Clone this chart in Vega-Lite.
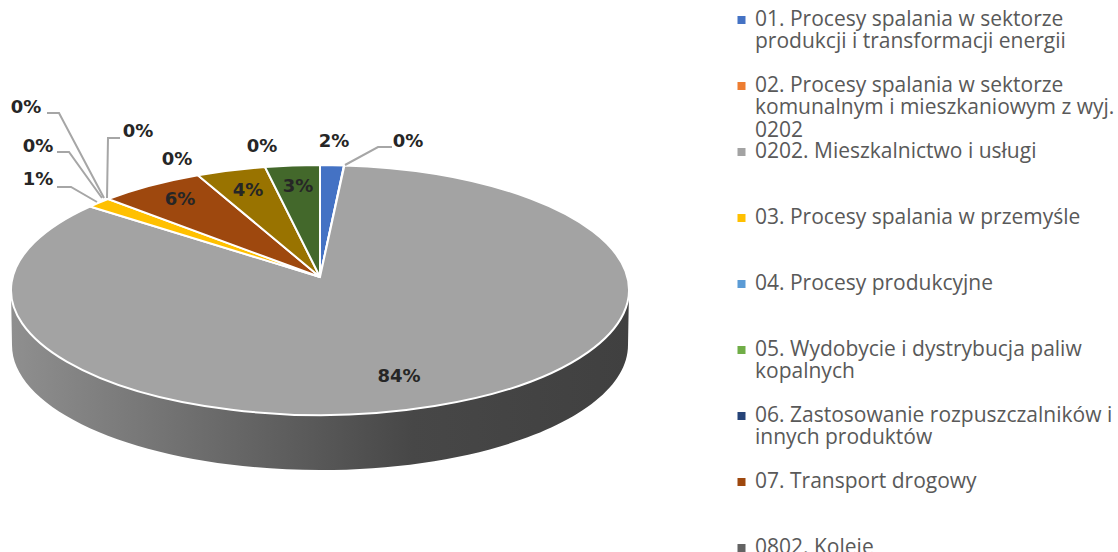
{
"$schema":"https://vega.github.io/schema/vega-lite/v6.json",
"width":1118,"height":552,"padding":0,"autosize":{"type":"none"},
"background":"white",
"config":{"view":{"stroke":null}},
"data":{"values":[
{"kategoria":"01. Procesy spalania w sektorze produkcji i transformacji energii","kod":"01","udzial":1.24,"etykieta":"2%"},
{"kategoria":"02. Procesy spalania w sektorze komunalnym i mieszkaniowym z wyj. 0202","kod":"02","udzial":0.02,"etykieta":"0%"},
{"kategoria":"0202. Mieszkalnictwo i usługi","kod":"0202","udzial":85.38,"etykieta":"84%"},
{"kategoria":"03. Procesy spalania w przemyśle","kod":"03","udzial":1.33,"etykieta":"1%"},
{"kategoria":"04. Procesy produkcyjne","kod":"04","udzial":0,"etykieta":"0%"},
{"kategoria":"05. Wydobycie i dystrybucja paliw kopalnych","kod":"05","udzial":0,"etykieta":"0%"},
{"kategoria":"06. Zastosowanie rozpuszczalników i innych produktów","kod":"06","udzial":0,"etykieta":"0%"},
{"kategoria":"07. Transport drogowy","kod":"07","udzial":5.56,"etykieta":"6%"},
{"kategoria":"0802. Koleje","kod":"0802","udzial":0,"etykieta":"0%"},
{"kategoria":"09. Zagospodarowanie odpadów","kod":"09","udzial":3.62,"etykieta":"4%"},
{"kategoria":"10. Rolnictwo","kod":"10","udzial":0,"etykieta":"0%"},
{"kategoria":"11. Inne","kod":"11","udzial":2.85,"etykieta":"3%"}
]},
"layer":[
{"data":{"values":[{"czesc":"bok"}]},
 "mark":{"type":"point","filled":true,"opacity":1,"strokeWidth":0,"fill":{"gradient":"linear","x1":0,"x2":1,"y1":0,"y2":0,"stops":[{"offset":0,"color":"#8f8f8f"},{"offset":0.65,"color":"#474747"},{"offset":1,"color":"#404040"}]}},
 "encoding":{"x":{"value":320},"y":{"value":290},"size":{"value":4},
  "shape":{"value":"M-309,0 L-308,55 A308,125 0 0 0 308,55 L309,0 A309,125 0 0 1 -309,0 Z"}}},
{"transform":[
  {"window":[{"op":"sum","field":"udzial","as":"koniec"}],"sort":[{"field":"kod","order":"ascending"}]},
  {"calculate":"datum.koniec-datum.udzial","as":"poczatek"},
  {"filter":"datum.udzial>0"},
  {"calculate":"'M0,-13 L'+(309*sin(datum.poczatek*PI/50))+','+(-125*cos(datum.poczatek*PI/50))+' A309,125 0 '+(datum.udzial>50?1:0)+' 1 '+(309*sin(datum.koniec*PI/50))+','+(-125*cos(datum.koniec*PI/50))+' Z'","as":"wycinek"}
 ],
 "mark":{"type":"point","filled":true,"opacity":1,"stroke":"white","strokeWidth":2,"strokeJoin":"miter"},
 "encoding":{"x":{"value":320},"y":{"value":290},"size":{"value":4},
  "shape":{"field":"wycinek","type":"nominal","scale":null,"legend":null},
  "fill":{"field":"kategoria","type":"nominal","sort":null,
   "scale":{"domain":["01. Procesy spalania w sektorze produkcji i transformacji energii","02. Procesy spalania w sektorze komunalnym i mieszkaniowym z wyj. 0202","0202. Mieszkalnictwo i usługi","03. Procesy spalania w przemyśle","04. Procesy produkcyjne","05. Wydobycie i dystrybucja paliw kopalnych","06. Zastosowanie rozpuszczalników i innych produktów","07. Transport drogowy","0802. Koleje","09. Zagospodarowanie odpadów","10. Rolnictwo","11. Inne"],
    "range":["#4472C4","#ED7D31","#A3A3A3","#FFC000","#5B9BD5","#70AD47","#264478","#9E480E","#636363","#997300","#255E91","#43682B"]},
   "legend":{"title":null,"orient":"none","legendX":731,"legendY":11,"symbolType":"square","symbolSize":64,"symbolStrokeWidth":0,"labelFont":"Open Sans","labelFontSize":21,"labelColor":"#595959","labelLimit":1000,"labelOffset":3,"rowPadding":0,"clipHeight":18,"labelBaseline":"alphabetic",
    "values":["01. Procesy spalania w sektorze produkcji i transformacji energii","02. Procesy spalania w sektorze komunalnym i mieszkaniowym z wyj. 0202","0202. Mieszkalnictwo i usługi","03. Procesy spalania w przemyśle","04. Procesy produkcyjne","05. Wydobycie i dystrybucja paliw kopalnych","06. Zastosowanie rozpuszczalników i innych produktów","07. Transport drogowy","0802. Koleje"],
    "labelExpr":"slice(split(replace(replace(replace(replace(datum.label,'sektorze ','sektorze|'),'wyj. ','wyj.|'),'paliw ','paliw|'),'rozpuszczalników i ','rozpuszczalników i|')+'| | ','|'),0,3)",
    "encoding":{"labels":{"dy":{"value":6},"lineHeight":{"value":22.4}}}}}}},
{"transform":[
  {"filter":"indexof(['02','03','04','05','06'],datum.kod)>=0"},
  {"calculate":"{'02':'M345,165 L378,147 L392,147','03':'M57,187 L71,187 L97,202','04':'M57,152 L69,152 L102,198','05':'M47,113 L59,113 L104,198','06':'M120,138 L108,138 L107,198'}[datum.kod]","as":"odnosnik"}
 ],
 "mark":{"type":"point","filled":false,"opacity":1,"stroke":"#a6a6a6","strokeWidth":2},
 "encoding":{"x":{"value":0},"y":{"value":0},"size":{"value":4},
  "shape":{"field":"odnosnik","type":"nominal","scale":null,"legend":null}}},
{"transform":[
  {"calculate":"{'01':334,'02':408,'0202':399,'03':38,'04':38,'05':26,'06':138,'07':180,'0802':177,'09':248,'10':262,'11':298}[datum.kod]","as":"px"},
  {"calculate":"{'01':142,'02':142,'0202':377,'03':180,'04':147,'05':108,'06':132,'07':200,'0802':160,'09':191,'10':147,'11':187}[datum.kod]","as":"py"}
 ],
 "mark":{"type":"text","font":"DejaVu Sans","fontWeight":"bold","fontSize":18,"color":"#262626","align":"center","baseline":"middle"},
 "encoding":{"x":{"field":"px","type":"quantitative","scale":null,"axis":null},
  "y":{"field":"py","type":"quantitative","scale":null,"axis":null},
  "text":{"field":"etykieta","type":"nominal"}}}
]
}
